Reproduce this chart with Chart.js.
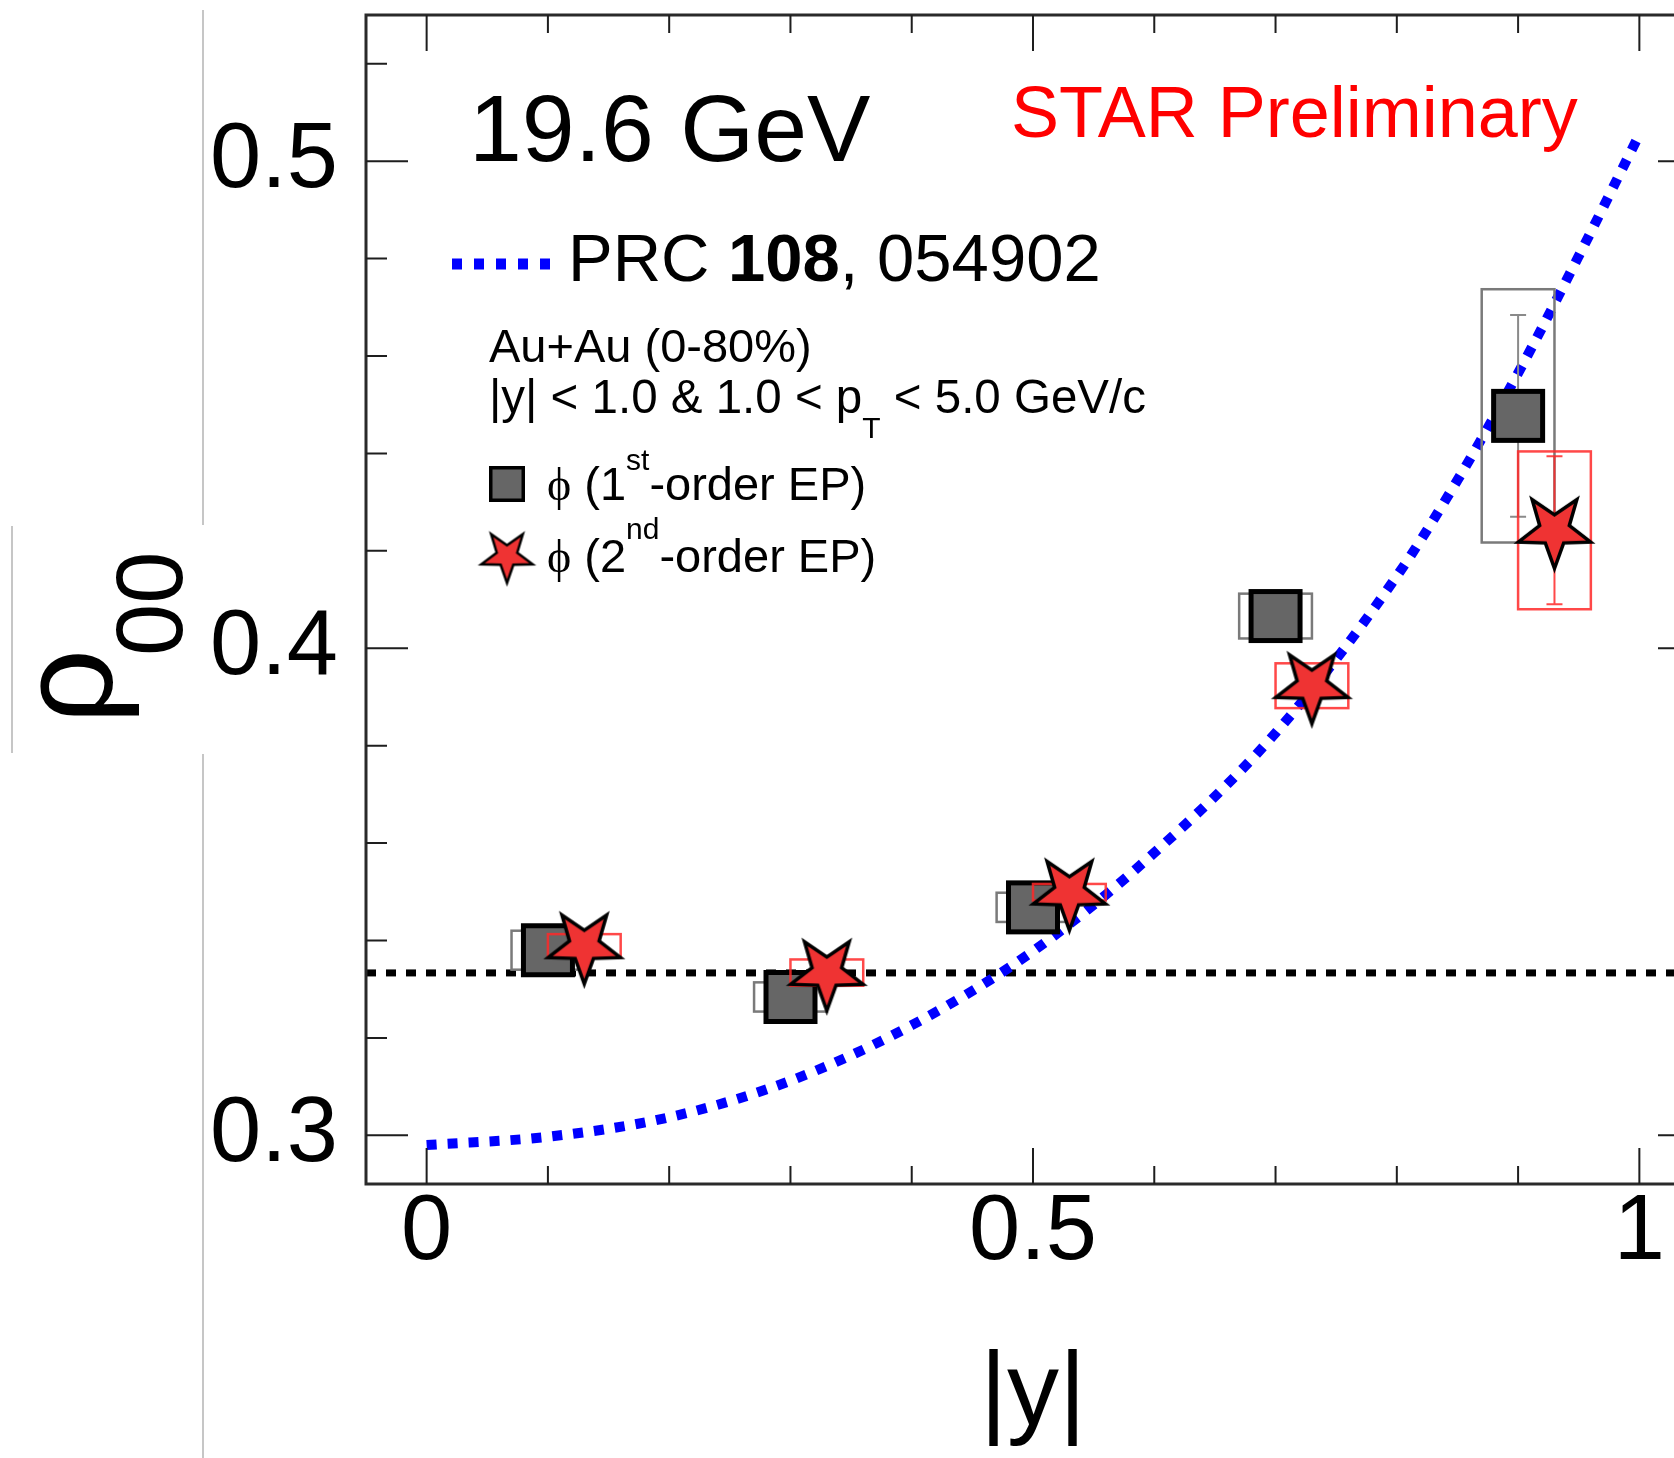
<!DOCTYPE html>
<html>
<head>
<meta charset="utf-8">
<title>rho00 vs |y| at 19.6 GeV</title>
<script src="https://cdn.jsdelivr.net/npm/chart.js@4/dist/chart.umd.min.js"></script>
<style>
  html, body { margin: 0; padding: 0; background: #fff; overflow: hidden; width: 1674px; height: 1458px; }
  #wrap { position: absolute; left: 0; top: 0; width: 1760px; height: 1458px; }
  .rule { position: absolute; background: #c6c6c6; width: 2px; z-index: 2; }
</style>
</head>
<body>
<div id="wrap"><canvas id="c" width="1760" height="1458" style="width:1760px;height:1458px"></canvas></div>
<div class="rule" style="left:202px;top:10px;height:515px"></div>
<div class="rule" style="left:202px;top:754px;height:704px"></div>
<div class="rule" style="left:11px;top:526px;height:227px"></div>
<script>
// ---- axis ranges and ticks ----
const xMin = -0.05, xMax = 1.05;
const yMin = 0.29, yMax = 0.53;
const xTickValues = [0, 0.5, 1];
const xTickLabels = ['0', '0.5', '1'];
const xMinorTicks = [0, 0.1, 0.2, 0.3, 0.4, 0.5, 0.6, 0.7, 0.8, 0.9, 1.0];
const yTickValues = [0.3, 0.4, 0.5];
const yTickLabels = ['0.3', '0.4', '0.5'];
const yMinorTicks = [0.30, 0.32, 0.34, 0.36, 0.38, 0.40, 0.42, 0.44, 0.46, 0.48, 0.50, 0.52];

// ---- phi, 1st-order event plane ----
const firstX    = [0.10, 0.30, 0.50, 0.70, 0.90];
const firstY    = [0.3380, 0.3284, 0.3468, 0.4066, 0.4477];
const firstStat = [0.005, 0.005, 0.005, 0.005, 0.0207];
const firstSys  = [0.004, 0.003, 0.003, 0.0046, 0.026];

// ---- phi, 2nd-order event plane ----
const secondX    = [0.13, 0.33, 0.53, 0.73, 0.93];
const secondY    = [0.3389, 0.3334, 0.3499, 0.3923, 0.4242];
const secondStat = [0.003, 0.003, 0.003, 0.003, 0.0152];
const secondSys  = [0.0024, 0.0027, 0.0017, 0.0046, 0.0162];

const sysHalfWidth = 0.03;

// ---- model curve, PRC 108, 054902 ----
const modelX = [0, 0.1, 0.2, 0.3, 0.4, 0.5, 0.6, 0.7, 0.8, 0.85, 0.9, 0.95, 1.0];
const modelY = [0.2980, 0.2997, 0.3037, 0.3112, 0.3226, 0.3378, 0.3580, 0.3826, 0.4148, 0.4345, 0.4565, 0.4805, 0.5055];

// unpolarised reference value
const refLevel = 1 / 3;

const FONT = '"Liberation Sans", Arial, Helvetica, sans-serif';
const SERIF = '"Liberation Serif", "DejaVu Serif", "Times New Roman", serif';

// ---- marker images ----
function makeStar(R, ratio, lw) {
  const s = Math.ceil(2 * R + 2 * lw + 4);
  const c = document.createElement('canvas');
  c.width = s; c.height = s;
  const g = c.getContext('2d');
  g.translate(s / 2, s / 2);
  g.beginPath();
  for (let k = 0; k < 10; k++) {
    const a = k * Math.PI / 5;
    const rad = (k % 2 === 0) ? R : R * ratio;
    const px = rad * Math.sin(a), py = rad * Math.cos(a);
    if (k === 0) g.moveTo(px, py); else g.lineTo(px, py);
  }
  g.closePath();
  g.fillStyle = '#ef3333';
  g.fill();
  g.lineJoin = 'miter';
  g.lineWidth = lw;
  g.strokeStyle = '#000';
  g.stroke();
  return c;
}
function makeSquare(side, lw) {
  const s = side + 2;
  const c = document.createElement('canvas');
  c.width = s; c.height = s;
  const g = c.getContext('2d');
  const o = (s - side) / 2;
  g.fillStyle = '#666666';
  g.fillRect(o, o, side, side);
  g.lineWidth = lw;
  g.strokeStyle = '#000';
  g.strokeRect(o + lw / 2, o + lw / 2, side - lw, side - lw);
  return c;
}
const starImg = makeStar(38, 0.41, 3.5);
const squareImg = makeSquare(54, 5);
const starLegendImg = makeStar(27, 0.40, 2.5);
const squareLegendImg = makeSquare(36, 3.5);

// ---- helpers ----
function drawRuns(ctx, x, y, runs) {
  let cx = x;
  runs.forEach(r => {
    ctx.font = (r.bold ? 'bold ' : '') + r.size + 'px ' + (r.family || FONT);
    ctx.fillStyle = r.color || '#000';
    ctx.fillText(r.t, cx, y + (r.dy || 0));
    cx += ctx.measureText(r.t).width;
  });
  return cx;
}

function drawErrors(chart, xs, ys, stat, sys, boxColor, barColor) {
  const ctx = chart.ctx, sx = chart.scales.x, sy = chart.scales.y;
  ctx.save();
  ctx.lineWidth = 2.5;
  ctx.strokeStyle = boxColor;
  xs.forEach((x, i) => {
    const l = sx.getPixelForValue(x - sysHalfWidth), r = sx.getPixelForValue(x + sysHalfWidth);
    const t = sy.getPixelForValue(ys[i] + sys[i]), b = sy.getPixelForValue(ys[i] - sys[i]);
    ctx.strokeRect(l, t, r - l, b - t);
  });
  ctx.strokeStyle = barColor;
  ctx.lineWidth = 2;
  xs.forEach((x, i) => {
    const px = sx.getPixelForValue(x);
    const t = sy.getPixelForValue(ys[i] + stat[i]), b = sy.getPixelForValue(ys[i] - stat[i]);
    ctx.beginPath();
    ctx.moveTo(px, t); ctx.lineTo(px, b);
    ctx.moveTo(px - 8, t); ctx.lineTo(px + 8, t);
    ctx.moveTo(px - 8, b); ctx.lineTo(px + 8, b);
    ctx.stroke();
  });
  ctx.restore();
}

// error boxes and bars go under each marker set
const errorPlugin = {
  id: 'errors',
  beforeDatasetDraw(chart, args) {
    if (args.index === 1) drawErrors(chart, firstX, firstY, firstStat, firstSys, '#7a7a7a', '#8a8a8a');
    if (args.index === 0) drawErrors(chart, secondX, secondY, secondStat, secondSys, 'rgba(255,40,40,0.85)', 'rgba(255,40,40,0.85)');
  }
};

// frame with inward ticks on all four sides, plus annotations
const framePlugin = {
  id: 'frame',
  afterDatasetsDraw(chart) {
    const ctx = chart.ctx, a = chart.chartArea, sx = chart.scales.x, sy = chart.scales.y;
    ctx.save();
    ctx.strokeStyle = '#2a2a2a';
    ctx.lineWidth = 3;
    ctx.strokeRect(a.left, a.top, a.right - a.left, a.bottom - a.top);
    ctx.lineWidth = 2;
    ctx.strokeStyle = '#1e1e1e';
    ctx.beginPath();
    xMinorTicks.forEach(v => {
      const p = sx.getPixelForValue(v);
      const len = xTickValues.includes(v) ? 36 : 18;
      ctx.moveTo(p, a.bottom); ctx.lineTo(p, a.bottom - len);
      ctx.moveTo(p, a.top); ctx.lineTo(p, a.top + len);
    });
    yMinorTicks.forEach(v => {
      const p = sy.getPixelForValue(v);
      const len = yTickValues.some(t => Math.abs(t - v) < 1e-9) ? 42 : 21;
      ctx.moveTo(a.left, p); ctx.lineTo(a.left + len, p);
      ctx.moveTo(a.right, p); ctx.lineTo(a.right - len, p);
    });
    ctx.stroke();
    ctx.restore();
  },
  afterDraw(chart) {
    const ctx = chart.ctx;
    ctx.save();
    ctx.textBaseline = 'alphabetic';
    ctx.textAlign = 'left';

    drawRuns(ctx, 469, 161, [{ t: '19.6 GeV', size: 95 }]);
    drawRuns(ctx, 1011, 137, [{ t: 'STAR Preliminary', size: 72, color: '#ff0000' }]);

    // model legend entry
    ctx.save();
    ctx.strokeStyle = '#0000ff';
    ctx.lineWidth = 11;
    ctx.setLineDash([10, 12]);
    ctx.beginPath(); ctx.moveTo(452, 264); ctx.lineTo(552, 264); ctx.stroke();
    ctx.restore();
    drawRuns(ctx, 568, 281, [
      { t: 'PRC ', size: 67 }, { t: '108', size: 67, bold: true }, { t: ', 054902', size: 67 }
    ]);

    drawRuns(ctx, 489, 362, [{ t: 'Au+Au (0-80%)', size: 47 }]);
    drawRuns(ctx, 489, 413, [
      { t: '|y| < 1.0 & 1.0 < p', size: 47.5 }, { t: 'T', size: 30, dy: 25 }, { t: ' < 5.0 GeV/c', size: 47.5 }
    ]);

    ctx.drawImage(squareLegendImg, 507 - squareLegendImg.width / 2, 484 - squareLegendImg.height / 2);
    drawRuns(ctx, 547, 500, [
      { t: 'ϕ', size: 46, family: SERIF }, { t: ' (1', size: 47 }, { t: 'st', size: 30, dy: -30 }, { t: '-order EP)', size: 47 }
    ]);
    ctx.drawImage(starLegendImg, 507 - starLegendImg.width / 2, 556 - starLegendImg.height / 2);
    drawRuns(ctx, 547, 572, [
      { t: 'ϕ', size: 46, family: SERIF }, { t: ' (2', size: 47 }, { t: 'nd', size: 30, dy: -33 }, { t: '-order EP)', size: 47 }
    ]);

    // vertical axis title, rho with subscript 00
    ctx.save();
    ctx.translate(112, 724);
    ctx.rotate(-Math.PI / 2);
    ctx.fillStyle = '#000';
    ctx.font = '132px ' + FONT;
    ctx.fillText('ρ', 0, 0);
    ctx.font = '94px ' + FONT;
    ctx.fillText('00', 68, 70);
    ctx.restore();

    ctx.restore();
  }
};

const chart = new Chart(document.getElementById('c').getContext('2d'), {
  type: 'scatter',
  data: {
    datasets: [
      {
        label: 'ϕ (2nd-order EP)',
        data: secondX.map((x, i) => ({ x: x, y: secondY[i] })),
        pointStyle: starImg, pointRadius: 10, pointHoverRadius: 10,
        order: 0
      },
      {
        label: 'ϕ (1st-order EP)',
        data: firstX.map((x, i) => ({ x: x, y: firstY[i] })),
        pointStyle: squareImg, pointRadius: 10, pointHoverRadius: 10,
        order: 1
      },
      {
        type: 'line',
        label: 'PRC 108, 054902',
        data: modelX.map((x, i) => ({ x: x, y: modelY[i] })),
        borderColor: '#0000ff', borderWidth: 10, borderDash: [10, 11], borderCapStyle: 'butt',
        pointRadius: 0, cubicInterpolationMode: 'monotone', fill: false,
        order: 2
      },
      {
        type: 'line',
        label: '1/3',
        data: [{ x: xMin, y: refLevel }, { x: xMax, y: refLevel }],
        borderColor: '#000', borderWidth: 7, borderDash: [10, 10], borderCapStyle: 'butt',
        pointRadius: 0, fill: false,
        order: 3
      }
    ]
  },
  options: {
    responsive: false,
    animation: false,
    devicePixelRatio: 1,
    events: [],
    layout: { padding: { top: 15, right: 60, left: 0, bottom: 0 } },
    plugins: { legend: { display: false }, tooltip: { enabled: false } },
    scales: {
      x: {
        type: 'linear', min: xMin, max: xMax,
        grid: { display: false, drawTicks: false },
        border: { display: false },
        afterBuildTicks: s => { s.ticks = xTickValues.map(v => ({ value: v })); },
        afterFit: s => { s.height = 274; s.paddingLeft = 0; s.paddingRight = 0; },
        ticks: {
          autoSkip: false, maxRotation: 0, padding: 4, color: '#000',
          font: { family: FONT, size: 92, lineHeight: 1.0 },
          callback: v => { const i = xTickValues.findIndex(t => Math.abs(t - v) < 1e-9); return i >= 0 ? xTickLabels[i] : ''; }
        },
        title: {
          display: true, text: '|y|', color: '#000',
          font: { family: FONT, size: 104, lineHeight: 1.2 },
          padding: { top: 0, bottom: 0 }
        }
      },
      y: {
        type: 'linear', min: yMin, max: yMax,
        grid: { display: false, drawTicks: false },
        border: { display: false },
        afterBuildTicks: s => { s.ticks = yTickValues.map(v => ({ value: v })); },
        afterFit: s => { s.width = 366; s.paddingTop = 0; s.paddingBottom = 0; },
        ticks: {
          autoSkip: false, padding: 28, color: '#000',
          font: { family: FONT, size: 92, lineHeight: 1.0 },
          callback: v => { const i = yTickValues.findIndex(t => Math.abs(t - v) < 1e-9); return i >= 0 ? yTickLabels[i] : ''; }
        }
      }
    }
  },
  plugins: [errorPlugin, framePlugin]
});
</script>
</body>
</html>
